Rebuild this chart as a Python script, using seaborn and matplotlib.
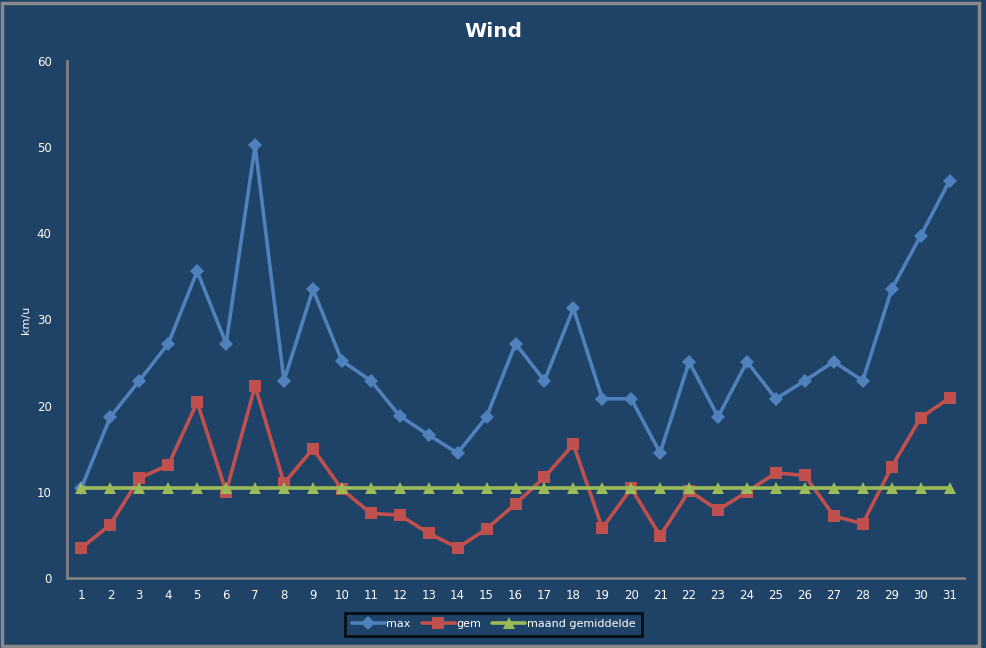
import matplotlib
matplotlib.use("Agg")
import matplotlib.pyplot as plt
import seaborn as sns
import numpy as np
import pandas as pd
from matplotlib.ticker import FixedLocator

days = list(range(1, 32))
max_vals = [10.5, 18.7, 22.9, 27.2, 35.6, 27.2, 50.2, 22.9, 33.5, 25.2,
            22.9, 18.8, 16.6, 14.5, 18.7, 27.2, 22.9, 31.3, 20.8, 20.8,
            14.5, 25.1, 18.7, 25.1, 20.8, 22.9, 25.1, 22.9, 33.5, 39.7, 46.1]
gem_vals = [3.5, 6.2, 11.6, 13.1, 20.4, 10.0, 22.3, 11.0, 15.0, 10.3,
            7.5, 7.3, 5.2, 3.5, 5.7, 8.6, 11.7, 15.5, 5.8, 10.4,
            4.9, 10.1, 7.9, 10.0, 12.2, 11.9, 7.2, 6.3, 12.9, 18.6, 20.9]
maand_vals = [10.5] * 31
series_names = ["max", "gem", "maand gemiddelde"]

bg = "#1F4267"
sns.set_theme(style="white")
plt.rcParams['font.family'] = ['DejaVu Sans']

fig = plt.figure(figsize=(9.87, 6.48), dpi=100, facecolor=bg)
ax = fig.add_axes([67/987, 1-578/648, (964-67)/987, (578-61)/648])
ax.set_facecolor(bg)

styles = [
    ("#4F81BD", "D", 7),
    ("#C0504D", "s", 8),
    ("#9BBB59", "^", 8),
]
for name, vals, (col, mk, ms) in zip(series_names, [max_vals, gem_vals, maand_vals], styles):
    df = pd.DataFrame({"dag": days, "v": vals})
    sns.lineplot(data=df, x="dag", y="v", ax=ax, color=col, linewidth=2.6,
                 marker=mk, markersize=ms, markeredgewidth=0, label=name)

ax.set_xlim(0.5, 31.5)
ax.set_ylim(0, 60)
ax.set_xticks(days)
ax.set_xticklabels([str(d) for d in days])
ax.xaxis.set_minor_locator(FixedLocator(np.arange(0.5, 32, 1)))
ax.tick_params(axis="x", which="major", length=0, pad=8, labelsize=8.5, colors="white")
ax.tick_params(axis="x", which="minor", length=5, width=1.5, color="#808080", direction="out")
ax.set_yticks(range(0, 61, 10))
ax.tick_params(axis="y", which="major", length=5, width=1.5, color="#808080",
               direction="out", labelsize=8.5, labelcolor="white", pad=6)
ax.tick_params(axis="x", labelcolor="white")
for s in ["top", "right"]:
    ax.spines[s].set_visible(False)
for s in ["left", "bottom"]:
    ax.spines[s].set_color("#808080")
    ax.spines[s].set_linewidth(2)

ax.set_xlabel("")
ax.set_ylabel("km/u", color="white", fontsize=8, labelpad=10)
ax.yaxis.set_label_coords(-0.04, 0.5)

fig.suptitle("Wind", color="white", fontsize=14.5, fontweight="bold", y=0.966)

ax.legend(loc="upper center", bbox_to_anchor=(0.5, 1 - 607/648), bbox_transform=fig.transFigure,
          ncol=3, frameon=True, facecolor=bg, edgecolor="black", fontsize=8,
          handlelength=3.0, columnspacing=1.0, handletextpad=0.1,
          borderpad=0.6, fancybox=False)
leg = ax.get_legend()
leg.get_frame().set_linewidth(2)
for t in leg.get_texts():
    t.set_color("white")

# outer border
fig.patches.append(plt.Rectangle((0.002, 0.003), 0.99, 0.992, transform=fig.transFigure,
                                 fill=False, edgecolor="#8A8A8A", linewidth=2.5))

fig.savefig("out.png", dpi=100, facecolor=bg)
